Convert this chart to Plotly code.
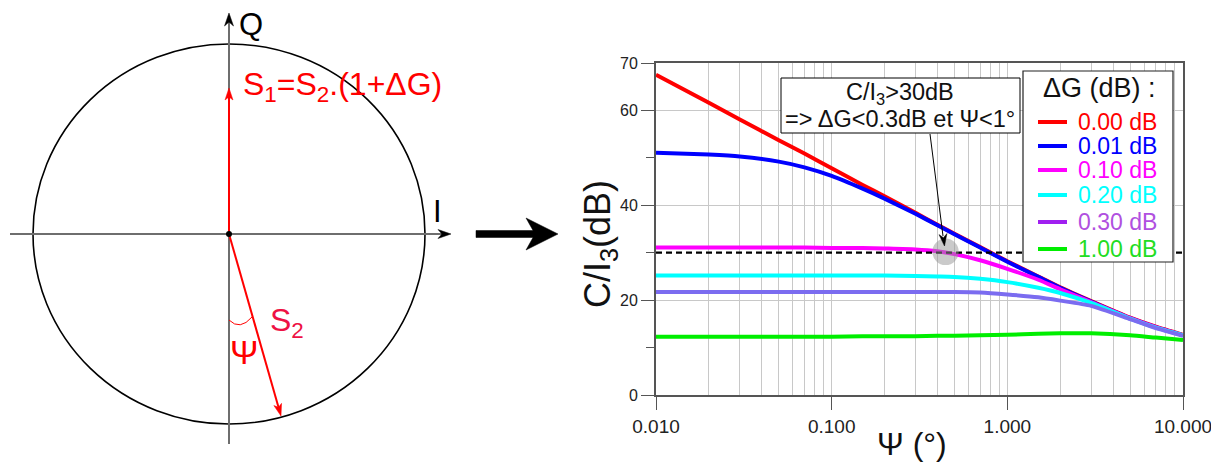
import math
import plotly.graph_objects as go

# ---------------- data ----------------
psi = [0.01, 0.02, 0.03, 0.05, 0.07, 0.1, 0.15, 0.2, 0.3, 0.4, 0.5, 0.7,
       1.0, 1.5, 2.0, 3.0, 5.0, 7.0, 10.0]
ci_0p00 = [67.5, 61.6, 58.1, 53.7, 50.9, 47.8, 44.3, 41.9, 38.4, 35.9, 34.0, 31.2,
           28.2, 25.0, 22.7, 19.8, 16.3, 14.4, 12.7]
ci_0p01 = [51.1, 50.7, 50.3, 49.2, 48.0, 46.2, 43.5, 41.4, 38.2, 35.8, 33.9, 31.1,
           28.1, 24.9, 22.6, 19.7, 16.2, 14.3, 12.6]
ci_0p10 = [31.1, 31.1, 31.1, 31.1, 31.1, 31.0, 31.0, 30.9, 30.7, 30.3, 29.7, 28.4,
           26.6, 24.3, 22.3, 19.6, 16.2, 14.3, 12.6]
ci_0p20 = [25.2, 25.2, 25.2, 25.2, 25.2, 25.2, 25.2, 25.2, 25.1, 25.0, 24.9, 24.5,
           23.8, 22.6, 21.5, 19.4, 16.1, 14.2, 12.6]
ci_0p30 = [21.7, 21.7, 21.7, 21.7, 21.7, 21.7, 21.7, 21.7, 21.7, 21.7, 21.7, 21.6,
           21.2, 20.6, 19.9, 18.8, 16.0, 14.1, 12.5]
ci_1p00 = [12.3, 12.3, 12.3, 12.3, 12.3, 12.3, 12.4, 12.4, 12.4, 12.5, 12.5, 12.6,
           12.7, 12.9, 13.0, 13.0, 12.6, 12.1, 11.6]

series_values = [ci_0p00, ci_0p01, ci_0p10, ci_0p20, ci_0p30, ci_1p00]
legend_labels = ["0.00 dB", "0.01 dB", "0.10 dB", "0.20 dB", "0.30 dB", "1.00 dB"]
line_colors = ["#ff0000", "#0000ff", "#ff00ff", "#00ffff", "#7b6cf0", "#00ee00"]
legend_line_colors = ["#ff0000", "#0000ff", "#ff00ff", "#00ffff", "#a020f0", "#00ee00"]
legend_text_colors = ["#ff0000", "#0000ff", "#ff00ff", "#00ffff", "#b050e0", "#22dd22"]

x_tickvals = [0.01, 0.1, 1, 10]
x_ticktext = ["0.010", "0.100", "1.000", "10.000"]
x_minor_vals = [m * d for d in (0.01, 0.1, 1) for m in range(2, 10)]
y_tickvals = [0, 20, 40, 60, 70]
y_ticktext = ["0", "20", "40", "60", "70"]
y_minor_vals = [10, 30, 50]
threshold_db = 30
marked_point = (0.445, 30.2)

FONT = "Arial, Liberation Sans, sans-serif"
OFF = 8                      # page body margin
W, H = 1219 - OFF, 470 - 2 * OFF


def px(x):
    return (x - OFF) / W


def py(y):
    return 1 - (y - OFF) / H


fig = go.Figure()
for vals, col, lab in zip(series_values, line_colors, legend_labels):
    fig.add_trace(go.Scatter(x=psi, y=vals, mode="lines", name=lab,
                             line=dict(color=col, width=4, shape="spline", smoothing=0.6),
                             showlegend=False, hoverinfo="skip"))
fig.add_trace(go.Scatter(x=[psi[0], psi[-1]], y=[threshold_db, threshold_db], mode="lines",
                         line=dict(color="black", width=2.2, dash="6px,4px"),
                         showlegend=False, hoverinfo="skip"))

# ---------- layout ----------
x0p, x1p, ytop, ybot = 656, 1183, 63, 395
axis_col = "#555555"
grid_col = "#c8c8c8"
fig.update_layout(
    width=W, height=H, margin=dict(l=0, r=0, t=0, b=0, autoexpand=False),
    paper_bgcolor="white", plot_bgcolor="white",
    font=dict(family=FONT, color="#222222"),
    xaxis=dict(type="log", range=[-2, 1], domain=[px(x0p), px(x1p)],
               tickmode="array", tickvals=x_tickvals, ticktext=x_ticktext,
               ticks="outside", ticklen=13, tickwidth=1.2, tickcolor=axis_col,
               showline=True, linecolor=axis_col, linewidth=2, mirror=True,
               showgrid=True, gridcolor=grid_col, gridwidth=1,
               minor=dict(tickmode="array", tickvals=x_minor_vals, showgrid=True,
                          gridcolor=grid_col, gridwidth=1, ticks=""),
               tickfont=dict(size=19, color="#222"), zeroline=False, fixedrange=True,
               automargin=False),
    yaxis=dict(range=[0, 70], domain=[py(ybot), py(ytop)],
               tickmode="array", tickvals=y_tickvals, ticktext=y_ticktext,
               ticks="outside", ticklen=13, tickwidth=1.2, tickcolor=axis_col,
               showline=True, linecolor=axis_col, linewidth=2, mirror=True,
               showgrid=True, gridcolor=grid_col, gridwidth=1,
               minor=dict(tickmode="array", tickvals=y_minor_vals, ticks="outside",
                          ticklen=8, tickcolor=axis_col, showgrid=False),
               tickfont=dict(size=16, color="#222"), zeroline=False, fixedrange=True,
               automargin=False),
)

shapes = []
annotations = []
P = dict(xref="paper", yref="paper")


def pline(x0, y0, x1, y1, color, width, layer="above"):
    return dict(type="line", x0=px(x0), y0=py(y0), x1=px(x1), y1=py(y1),
                line=dict(color=color, width=width), layer=layer, **P)


def ppath(points, color, close=True):
    d = "M " + " L ".join(f"{px(a):.5f},{py(b):.5f}" for a, b in points)
    if close:
        d += " Z"
    return dict(type="path", path=d, fillcolor=color, line=dict(color=color, width=0.5),
                layer="above", **P)


def arrow_head(tipx, tipy, fromx, fromy, length, half, color, notch=0.0):
    dx, dy = tipx - fromx, tipy - fromy
    n = math.hypot(dx, dy)
    ux, uy = dx / n, dy / n
    qx, qy = -uy, ux
    bx, by = tipx - ux * length, tipy - uy * length
    nx, ny = tipx - ux * length * (1 - notch), tipy - uy * length * (1 - notch)
    return ppath([(tipx, tipy), (bx + qx * half, by + qy * half), (nx, ny),
                  (bx - qx * half, by - qy * half)], color)


def text(x, y, s, size, color, xanchor="center", angle=0):
    return dict(x=px(x), y=py(y), text=s, showarrow=False, xanchor=xanchor, yanchor="middle",
                textangle=angle, font=dict(size=size, color=color, family=FONT), **P)


# ---------- left diagram ----------
red = "#ff0000"
shapes.append(dict(type="circle", x0=px(33), x1=px(425), y0=py(424), y1=py(44),
                   line=dict(color="black", width=1.6), **P))
shapes.append(pline(10, 234, 446, 234, "#6e6e6e", 2))
shapes.append(arrow_head(451, 234, 229, 234, 13, 4.5, "black", notch=0.3))
shapes.append(pline(229, 444, 229, 18, "#6e6e6e", 2))
shapes.append(arrow_head(229, 13, 229, 234, 13, 4.5, "black", notch=0.3))
shapes.append(pline(229, 234, 229, 96, red, 2))
shapes.append(arrow_head(229, 88, 229, 234, 12, 4, red, notch=0.25))
shapes.append(pline(229, 234, 279, 409, red, 2))
shapes.append(arrow_head(281, 416, 229, 234, 12, 4, red, notch=0.25))
shapes.append(dict(type="path",
                   path=f"M {px(229)},{py(320)} Q {px(240)},{py(331)} {px(252)},{py(317)}",
                   line=dict(color=red, width=1), **P))
shapes.append(dict(type="circle", x0=px(226), x1=px(232), y0=py(237), y1=py(231),
                   fillcolor="black", line=dict(color="black", width=0), **P))

annotations += [
    text(237, 25, "Q", 31, "black", "left"),
    text(431, 212, "I", 31, "black", "left"),
    text(241, 86, "S<sub>1</sub>=S<sub>2</sub>.(1+ΔG)", 32, red, "left"),
    text(268, 322, "S<sub>2</sub>", 32, "#ee1144", "left"),
    text(244, 352, "Ψ", 34, red, "center"),
]

# big arrow
shapes.append(ppath([(476, 230.5), (536, 230.5), (536, 237.5), (476, 237.5)], "black"))
shapes.append(ppath([(558, 234), (526, 218), (535, 234), (526, 250)], "black"))

# ---------- chart decorations ----------
mx, my = marked_point
shapes.append(dict(type="circle", xref="x", yref="y",
                   x0=mx * 10 ** -0.075, x1=mx * 10 ** 0.075,
                   y0=my - 2.8, y1=my + 2.8,
                   fillcolor="rgba(150,150,150,0.5)", line=dict(width=0), layer="above"))

# text box
shapes.append(dict(type="rect", x0=px(781), x1=px(1020), y0=py(133), y1=py(78),
                   fillcolor="white", line=dict(color="black", width=1), layer="above", **P))
annotations.append(text(900, 93, "C/I<sub>3</sub>&gt;30dB", 23.5, "#111"))
annotations.append(text(900, 119, "=&gt; ΔG&lt;0.3dB et Ψ&lt;1°", 23.5, "#111"))
shapes.append(pline(930, 134, 943, 236, "black", 1))
shapes.append(arrow_head(944.5, 246, 930, 134, 12, 4, "black", notch=0.3))

# axis titles
annotations.append(text(600, 244, "C/I<sub>3</sub>(dB)", 36, "#111", angle=-90))
annotations.append(text(912, 444, "Ψ (°)", 32, "#111"))

# legend
shapes.append(dict(type="rect", x0=px(1023), x1=px(1173), y0=py(262), y1=py(71),
                   fillcolor="white", line=dict(color="#222", width=1.2), layer="above", **P))
annotations.append(text(1099, 88, "ΔG (dB) :", 27, "#111"))
leg_y = [122, 146, 170, 195, 222, 249]
for yy, lc, tc, lab in zip(leg_y, legend_line_colors, legend_text_colors, legend_labels):
    shapes.append(pline(1038, yy, 1067, yy, lc, 4))
    annotations.append(text(1076, yy, lab, 23, tc, "left"))

fig.update_layout(shapes=shapes, annotations=annotations)
fig.write_html("out.html")
